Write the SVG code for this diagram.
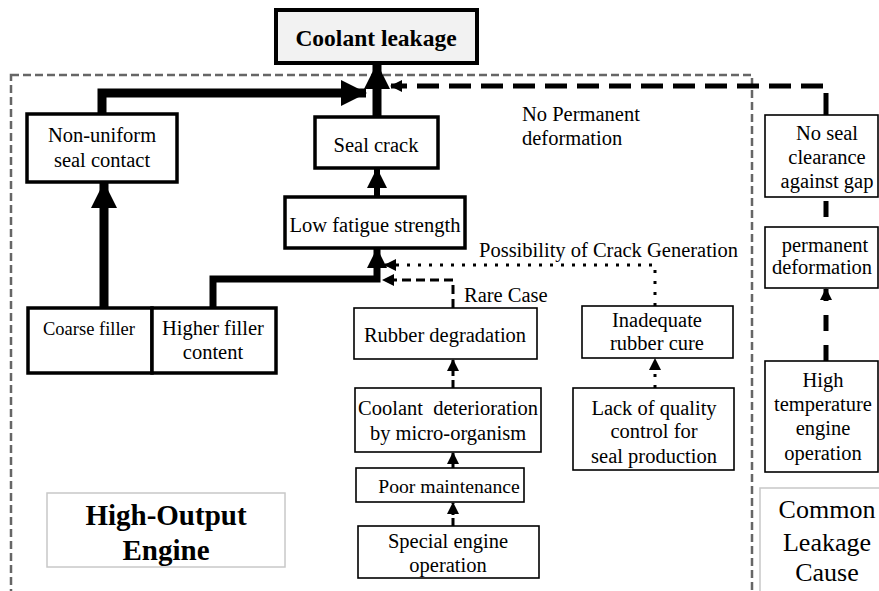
<svg xmlns="http://www.w3.org/2000/svg" width="879" height="591" viewBox="0 0 879 591" font-family="Liberation Serif, DejaVu Serif, serif">
<style>
text{font-family:'Liberation Serif','DejaVu Serif',serif;fill:#000;text-anchor:middle}
.box{fill:#fff;stroke:#000;stroke-width:1.6}
.tbox{fill:#fff;stroke:#000;stroke-width:3.5}
.gbox{fill:#fff;stroke:#c8c8c8;stroke-width:1.5}
.t{font-size:20.5px}
.s{text-anchor:start}
.c{fill:none;stroke:#000}
</style>
<defs>
<marker id="big" markerUnits="userSpaceOnUse" viewBox="0 0 26 26" markerWidth="26" markerHeight="26" refX="25" refY="13" orient="auto"><path d="M0,0 L26,13 L0,26 z" fill="#000"/></marker>
<marker id="mid" markerUnits="userSpaceOnUse" viewBox="0 0 20 20" markerWidth="20" markerHeight="20" refX="19" refY="10" orient="auto"><path d="M0,0 L20,10 L0,20 z" fill="#000"/></marker>
<marker id="sm" markerUnits="userSpaceOnUse" viewBox="0 0 12 12" markerWidth="12" markerHeight="12" refX="11" refY="6" orient="auto"><path d="M0,0 L12,6 L0,12 z" fill="#000"/></marker>
</defs>

<rect id="high-output-region" x="11" y="75" width="741" height="540" fill="none" stroke="#666" stroke-width="2.5" stroke-dasharray="8 4"/>

<g id="connectors">
<path class="c" d="M102,114 V93 H366" stroke-width="9" marker-end="url(#big)"/>
<path class="c" d="M377,117 V64" stroke-width="9" marker-end="url(#big)"/>
<path class="c" d="M377,197 V169" stroke-width="6" marker-end="url(#mid)"/>
<path class="c" d="M104,308 V183" stroke-width="9" marker-end="url(#big)"/>
<path class="c" d="M213,308 V279 H377 V249" stroke-width="7" marker-end="url(#mid)"/>
<path class="c" d="M453,308 V280 H383" stroke-width="3" stroke-dasharray="9 5" marker-end="url(#sm)"/>
<path class="c" d="M655,306 V265 H385" stroke-width="3" stroke-dasharray="3 8" marker-end="url(#sm)"/>
<path class="c" d="M453,388 V360" stroke-width="3" stroke-dasharray="8 4" marker-end="url(#sm)"/>
<path class="c" d="M453,468 V453" stroke-width="3" marker-end="url(#sm)"/>
<path class="c" d="M453,526 V503" stroke-width="3" stroke-dasharray="8 3" marker-end="url(#sm)"/>
<path class="c" d="M655,388 V359" stroke-width="3" stroke-dasharray="3 8" marker-end="url(#sm)"/>
<path class="c" d="M826,361 V289" stroke-width="5" stroke-dasharray="16 14" marker-end="url(#sm)"/>
<path class="c" d="M826,227 V197" stroke-width="5" stroke-dasharray="0 10 16 10"/>
<path class="c" d="M826,115 V86 H391" stroke-width="5" stroke-dasharray="22 10" marker-end="url(#sm)"/>
</g>

<g id="coolant-leakage"><rect x="276" y="10" width="201" height="53" fill="#f2f2f2" stroke="#000" stroke-width="4"/><text x="376" y="46" font-size="23.5" font-weight="bold">Coolant leakage</text></g>

<g id="non-uniform"><rect class="tbox" x="27" y="114" width="150" height="68"/><text class="t" x="102" y="142">Non-uniform</text><text class="t" x="102" y="167">seal contact</text></g>

<g id="seal-crack"><rect class="tbox" x="315" y="117" width="123" height="51"/><text class="t" x="376" y="152">Seal crack</text></g>

<g id="low-fatigue"><rect class="tbox" x="285" y="197" width="180" height="51"/><text class="t" x="375" y="232">Low fatigue strength</text></g>

<g id="coarse-filler"><rect class="tbox" x="28" y="308" width="124" height="65"/><text x="89" y="335" font-size="18.5">Coarse filler</text></g>

<g id="higher-filler"><rect class="tbox" x="152" y="308" width="124" height="65"/><text class="t" x="213" y="335">Higher filler</text><text class="t" x="213" y="359">content</text></g>

<g id="rubber-degradation"><rect class="box" x="354" y="308" width="183" height="51"/><text class="t" x="445" y="342">Rubber degradation</text></g>

<g id="coolant-deterioration"><rect class="box" x="355" y="388" width="186" height="64"/><text class="t" x="448" y="415" xml:space="preserve">Coolant  deterioration</text><text class="t" x="448" y="440">by micro-organism</text></g>

<g id="poor-maintenance"><rect class="box" x="356" y="468" width="168" height="34"/><text x="449" y="493" font-size="19.7">Poor maintenance</text></g>

<g id="special-engine"><rect class="box" x="358" y="526" width="181" height="52"/><text class="t" x="448" y="548">Special engine</text><text class="t" x="448" y="572">operation</text></g>

<g id="inadequate-cure"><rect class="box" x="582" y="306" width="151" height="52"/><text class="t" x="657" y="327">Inadequate</text><text class="t" x="657" y="350">rubber cure</text></g>

<g id="lack-quality"><rect class="box" x="573" y="388" width="161" height="82"/><text class="t" x="654" y="415">Lack of quality</text><text class="t" x="654" y="438">control for</text><text class="t" x="654" y="463">seal production</text></g>

<g id="no-seal-clearance"><rect class="box" x="765" y="115" width="113" height="82"/><text class="t" x="827" y="140">No seal</text><text class="t" x="827" y="164">clearance</text><text class="t" x="827" y="188">against gap</text></g>

<g id="permanent-deformation"><rect class="box" x="765" y="227" width="113" height="61"/><text class="t" x="825" y="252">permanent</text><text class="t" x="822" y="274">deformation</text></g>

<g id="high-temperature"><rect class="box" x="765" y="361" width="113" height="111"/><text class="t" x="823" y="387">High</text><text class="t" x="823" y="411">temperature</text><text class="t" x="823" y="435">engine</text><text class="t" x="823" y="460">operation</text></g>

<g id="high-output-label"><rect class="gbox" x="47" y="493" width="238" height="74"/><text x="166" y="525" font-size="29" font-weight="bold">High-Output</text><text x="166" y="560" font-size="29" font-weight="bold">Engine</text></g>

<g id="common-leakage-label"><rect class="gbox" x="760" y="488" width="125" height="110"/><text x="827" y="518" font-size="26">Common</text><text x="827" y="551" font-size="26">Leakage</text><text x="827" y="581" font-size="26">Cause</text></g>

<g id="labels">
<text class="t s" x="522" y="121">No Permanent</text>
<text class="t s" x="522" y="145">deformation</text>
<text class="t s" x="479" y="257">Possibility of Crack Generation</text>
<text class="t s" x="464" y="302">Rare Case</text>
</g>
</svg>
